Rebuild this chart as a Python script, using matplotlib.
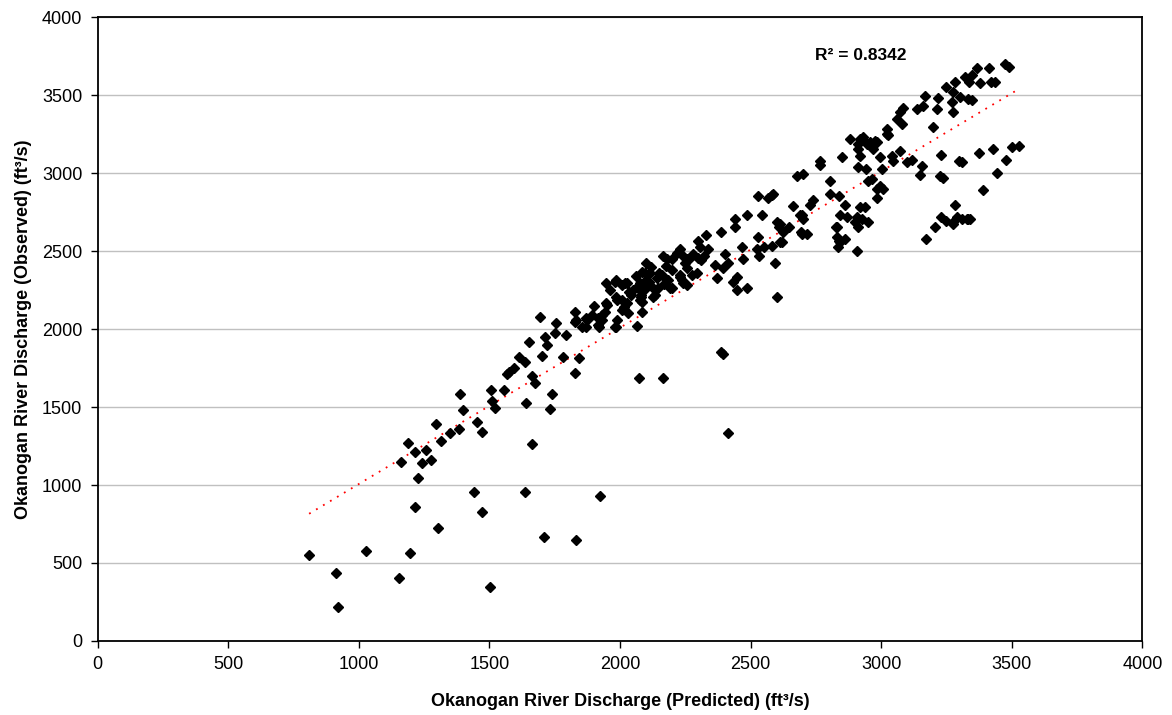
import numpy as np
import matplotlib
matplotlib.use("Agg")
import matplotlib.pyplot as plt

plt.rcParams['font.family'] = ['Liberation Sans', 'DejaVu Sans']

# (predicted, observed) discharge pairs, ft3/s
points = [
    (810,552),(913,436),(921,218),(1029,578),(1155,404),(1197,565),(1216,860),(1305,725),
    (1443,956),(1473,828),(1504,347),(1638,956),(1711,668),(1830,650),(1925,930),(2071,1688),
    (2163,1688),(2385,1855),(2395,1840),(2415,1335),(2600,2202),
    (1163,1149),(1190,1271),(1216,1213),(1228,1046),(1259,1226),(1243,1142),(1278,1162),
    (1297,1393),(1316,1284),(1350,1335),(1385,1361),(1389,1585),(1400,1483),(1454,1406),
    (1473,1342),(1508,1611),(1557,1611),(1511,1540),(1523,1496),(1642,1528),(1665,1264),
    (1676,1656),(1665,1701),(1741,1585),(1734,1489),(1569,1714),(1577,1727),(1596,1752),
    (1615,1823),(1638,1791),(1653,1919),(1695,2080),(1703,1829),(1714,1951),(1722,1900),
    (1753,1977),(1756,2041),(1783,1823),(1795,1964),(1826,1720),(1826,2112),(1829,2047),
    (1833,2060),(1845,1816),(1856,2015),(1871,2073),(1871,2015),(1875,2060),(1891,2092),
    (1914,2028),(1914,2073),(1921,2015),(1933,2092),(1933,2060),(1941,2112),(1948,2169),
    (1948,2298),(1952,2157),(1979,2304),(1979,2015),(1983,2317),(1986,2208),(1986,2015),
    (1990,2060),(1990,2189),(2009,2189),(2009,2125),(2009,2285),(2017,2144),(2021,2298),
    (2025,2298),(2025,2169),(2029,2105),(2036,2240),(2044,2221),(2067,2022),(2067,2272),
    (2075,2298),(2075,2189),(2082,2221),(2082,2208),(2086,2368),(2086,2240),(2086,2176),
    (2086,2112),(2094,2360),(2098,2426),(2101,2317),(2105,2272),(2113,2362),(2121,2272),
    (2125,2208),(2133,2221),(2144,2266),(2148,2362),(2159,2349),(2163,2465),(2175,2401),
    (2182,2317),(2190,2266),(2198,2446),(2198,2266),(2217,2490),(2228,2510),(2228,2349),
    (2228,2336),(2236,2317),(2240,2298),(2255,2446),(2255,2394),(2255,2279),(2266,2446),
    (2274,2349),(2278,2478),(2293,2362),(2297,2458),(2297,2561),(2305,2523),(2328,2600),
    (2335,2510),(2362,2413),(2370,2330),(2385,2625),(2393,2394),(2401,2478),(2413,2426),
    (2431,2304),(2439,2702),(2439,2651),(2446,2336),(2446,2253),(2466,2523),(2470,2446),
    (2485,2728),(2485,2266),(2523,2510),(2527,2850),(2527,2593),(2534,2465),(2542,2728),
    (2553,2523),(2565,2843),(2580,2856),(2580,2529),(2584,2863),(2592,2420),(2600,2683),
    (2607,2651),(2611,2670),(2611,2555),(2619,2555),(2623,2625),(2646,2657),(2661,2786),
    (2676,2978),(2688,2734),(2692,2619),(2695,2734),(2695,2612),(2699,2702),(2699,2991),
    (2715,2606),(2726,2798),(2738,2830),(2765,3074),(2765,3049),(2803,2946),(2803,2863),
    (2826,2651),(2830,2651),(2830,2587),(2834,2523),(2837,2850),(2837,2561),(2841,2734),
    (2841,2555),(2849,3100),(2860,2792),(2860,2574),(2868,2721),(2879,3216),(2899,2689),
    (2906,2503),(2906,2721),(2910,2651),(2910,3151),(2910,3036),(2910,3184),(2918,3216),
    (2918,3106),(2918,2779),(2925,2702),(2929,3228),(2937,2779),(2941,3023),(2945,3184),
    (2948,2946),(2948,2689),(2956,3196),(2964,2959),(2968,3151),(2975,3203),(2983,3196),
    (2983,2895),(2983,2843),(2994,2914),(2994,3100),(3002,3023),(3006,2895),(3021,3248),
    (3021,3280),(3025,3241),(3040,3106),(3044,3074),(3059,3344),(3071,3389),(3071,3138),
    (3078,3312),(3083,3415),(3098,3068),(3117,3081),(3136,3408),(3147,2985),(3155,3042),
    (3159,3427),(3167,3492),(3170,2574),(3197,3293),(3205,2657),(3213,3408),(3216,3479),
    (3224,2978),(3230,3113),(3230,2715),(3236,2965),(3248,3550),(3248,2695),(3270,3453),
    (3274,3517),(3274,3389),(3274,2689),(3274,2670),(3282,3582),(3282,2792),(3289,2715),
    (3297,3074),(3301,3485),(3309,3068),(3309,2702),(3320,3614),(3328,2702),(3331,3472),
    (3331,2708),(3336,3582),(3339,2708),(3347,3626),(3347,3466),(3366,3671),(3374,3126),
    (3378,3575),(3389,2888),(3412,3671),(3420,3582),(3427,3151),(3435,3582),(3442,2997),
    (3473,3697),(3477,3081),(3488,3678),(3500,3164),(3527,3170),
    (2050,2250),(2110,2300),(2140,2330),(2170,2290),(2200,2380),(2250,2420),(2310,2440),
    (2320,2470),(2180,2450),(2120,2400),(2060,2340),(1960,2250),(1900,2150),(2240,2470),
]
predicted = [p[0] for p in points]
observed = [p[1] for p in points]

r2_label = "R² = 0.8342"
x_ticks = [0, 500, 1000, 1500, 2000, 2500, 3000, 3500, 4000]
y_ticks = [0, 500, 1000, 1500, 2000, 2500, 3000, 3500, 4000]

fig = plt.figure(figsize=(11.72, 7.15), dpi=100)
ax = fig.add_axes([0.0832, 0.1035, 0.8916, 0.8727])

ax.set_xlim(0, 4000)
ax.set_ylim(0, 4000)
ax.set_xticks(x_ticks)
ax.set_yticks(y_ticks)
ax.yaxis.grid(True, color='#c0c0c0', linewidth=1.0)
ax.set_axisbelow(True)

x = np.array(predicted, float)
y = np.array(observed, float)
coef = np.polyfit(x, y, 1)
xs = np.array([x.min(), x.max()])
ax.plot(xs, np.polyval(coef, xs), color='red', linestyle=(0, (1, 3.5)), linewidth=1.3, zorder=2)

ax.plot(x, y, linestyle='none', marker='D', markersize=5.6, color='black', zorder=3)

ax.text(2745, 3755, r2_label, fontsize=12.5, fontweight='bold', ha='left', va='center')

for s in ax.spines.values():
    s.set_color('black')
    s.set_linewidth(1.3)
ax.tick_params(axis='both', direction='out', length=5, width=1, labelsize=13, pad=6)

ax.set_xlabel('Okanogan River Discharge (Predicted) (ft³/s)', fontsize=13, fontweight='bold', labelpad=14)
ax.set_ylabel('Okanogan River Discharge (Observed) (ft³/s)', fontsize=13, fontweight='bold', labelpad=7)

fig.savefig('out.png', dpi=100)
